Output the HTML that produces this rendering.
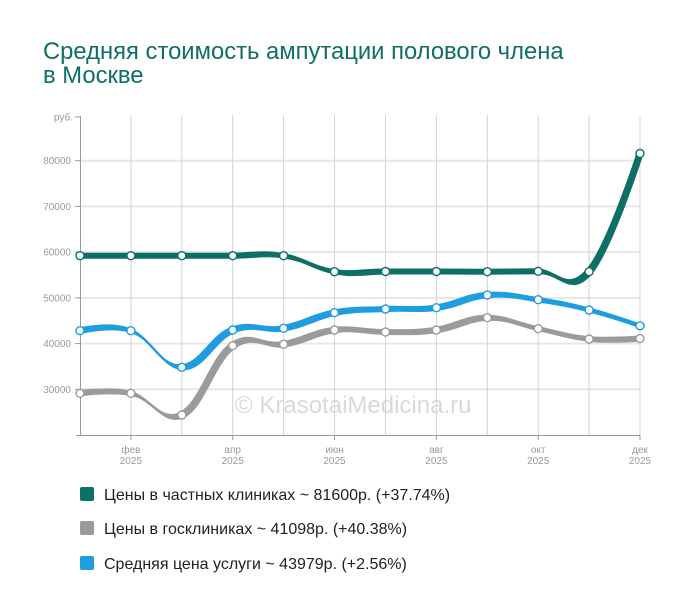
<!DOCTYPE html>
<html><head><meta charset="utf-8"><style>
html,body{margin:0;padding:0;background:#fff;}
svg{display:block;}
text{font-family:"Liberation Sans","Noto Sans CJK SC",sans-serif;}
</style></head><body>
<svg width="700" height="612" viewBox="0 0 700 612" xmlns="http://www.w3.org/2000/svg">
<rect width="700" height="612" fill="#fff"/>
<text x="43" y="59" font-size="23.8" fill="#0f6e66">Средняя стоимость ампутации полового члена</text>
<text x="43" y="83" font-size="23.8" fill="#0f6e66">в Москве</text>

<!-- watermark -->
<text x="235" y="413" font-size="24" fill="#d9d9d9">© KrasotaiMedicina.ru</text>

<!-- horizontal gridlines -->
<g stroke="#e6e6e6" stroke-width="2">
<line x1="80" y1="160.7" x2="640" y2="160.7"/>
<line x1="80" y1="206.4" x2="640" y2="206.4"/>
<line x1="80" y1="252.1" x2="640" y2="252.1"/>
<line x1="80" y1="297.9" x2="640" y2="297.9"/>
<line x1="80" y1="343.6" x2="640" y2="343.6"/>
<line x1="80" y1="389.3" x2="640" y2="389.3"/>
</g>
<!-- vertical gridlines -->
<g stroke="#d4d4d4" stroke-width="1">
<line x1="130.9" y1="115" x2="130.9" y2="435"/>
<line x1="181.8" y1="115" x2="181.8" y2="435"/>
<line x1="232.7" y1="115" x2="232.7" y2="435"/>
<line x1="283.6" y1="115" x2="283.6" y2="435"/>
<line x1="334.5" y1="115" x2="334.5" y2="435"/>
<line x1="385.5" y1="115" x2="385.5" y2="435"/>
<line x1="436.4" y1="115" x2="436.4" y2="435"/>
<line x1="487.3" y1="115" x2="487.3" y2="435"/>
<line x1="538.2" y1="115" x2="538.2" y2="435"/>
<line x1="589.1" y1="115" x2="589.1" y2="435"/>
<line x1="640" y1="115" x2="640" y2="435"/>
</g>
<!-- axes -->
<g stroke="#999" stroke-width="1">
<line x1="80.5" y1="116" x2="80.5" y2="435.5"/>
<line x1="76" y1="435.5" x2="640" y2="435.5"/>
<line x1="75" y1="117" x2="80" y2="117"/>
<line x1="75" y1="160.7" x2="80" y2="160.7"/>
<line x1="75" y1="206.4" x2="80" y2="206.4"/>
<line x1="75" y1="252.1" x2="80" y2="252.1"/>
<line x1="75" y1="297.9" x2="80" y2="297.9"/>
<line x1="75" y1="343.6" x2="80" y2="343.6"/>
<line x1="75" y1="389.3" x2="80" y2="389.3"/>
<line x1="130.9" y1="435" x2="130.9" y2="440"/>
<line x1="232.7" y1="435" x2="232.7" y2="440"/>
<line x1="334.5" y1="435" x2="334.5" y2="440"/>
<line x1="436.4" y1="435" x2="436.4" y2="440"/>
<line x1="538.2" y1="435" x2="538.2" y2="440"/>
<line x1="640" y1="435" x2="640" y2="440"/>
</g>
<g font-size="10" fill="#999" text-anchor="end">
<text x="73" y="120.5">руб.</text>
<text x="71" y="164.2">80000</text>
<text x="71" y="209.9">70000</text>
<text x="71" y="255.6">60000</text>
<text x="71" y="301.4">50000</text>
<text x="71" y="347.1">40000</text>
<text x="71" y="392.8">30000</text>
</g>
<g font-size="10" fill="#999" text-anchor="middle">
<text x="130.9" y="453">фев</text><text x="130.9" y="464">2025</text>
<text x="232.7" y="453">апр</text><text x="232.7" y="464">2025</text>
<text x="334.5" y="453">июн</text><text x="334.5" y="464">2025</text>
<text x="436.4" y="453">авг</text><text x="436.4" y="464">2025</text>
<text x="538.2" y="453">окт</text><text x="538.2" y="464">2025</text>
<text x="640" y="453">дек</text><text x="640" y="464">2025</text>
</g>

<defs>
<path id="pt" fill="none" d="M80,255.7 C80,255.7 110.5,255.7 130.9,255.7 C151.3,255.7 161.4,255.7 181.8,255.7 C202.2,255.7 212.3,255.7 232.7,255.7 C253.1,255.7 263.2,252.5 283.6,255.7 C304,258.9 314.1,268.5 334.5,271.7 C354.9,274.9 365.1,271.5 385.5,271.5 C405.9,271.5 416,271.5 436.4,271.5 C456.8,271.5 466.9,271.7 487.3,271.7 C507.7,271.7 517.8,271.3 538.2,271.3 C558.6,271.3 568.7,295.3 589.1,271.7 C609.5,248.1 640,153.4 640,153.4"/>
<path id="pg" fill="none" d="M80,393.3 C80,393.3 110.5,388.96 130.9,393.3 C151.3,397.64 161.4,424.52 181.8,415 C202.2,405.48 212.3,359.84 232.7,345.7 C253.1,331.56 263.2,347.44 283.6,344.3 C304,341.16 314.1,332.46 334.5,330 C354.9,327.54 365.1,332 385.5,332 C405.9,332 416,332.86 436.4,330 C456.8,327.14 466.9,317.96 487.3,317.7 C507.7,317.44 517.8,324.44 538.2,328.7 C558.6,332.96 568.7,337.02 589.1,339 C609.5,340.98 640,338.6 640,338.6"/>
<path id="pb" fill="none" d="M80,330.7 C80,330.7 110.5,323.38 130.9,330.7 C151.3,338.02 161.4,367.44 181.8,367.3 C202.2,367.16 212.3,337.8 232.7,330 C253.1,322.2 263.2,331.76 283.6,328.3 C304,324.84 314.1,316.56 334.5,312.7 C354.9,308.84 365.1,310 385.5,309 C405.9,308 416,310.5 436.4,307.7 C456.8,304.9 466.9,296.6 487.3,295 C507.7,293.4 517.8,296.7 538.2,299.7 C558.6,302.7 568.7,304.78 589.1,310 C609.5,315.22 640,325.8 640,325.8"/>
</defs>

<!-- gray series -->
<g stroke="#9b9b9b" stroke-width="2" stroke-linecap="round">
<use href="#pg" transform="translate(-2,-2)"/><use href="#pg" transform="translate(-1,-1)"/><use href="#pg"/><use href="#pg" transform="translate(1,1)"/><use href="#pg" transform="translate(2,2)"/>
</g>
<!-- blue series -->
<g stroke="#1e9de0" stroke-width="2" stroke-linecap="round">
<use href="#pb" transform="translate(-2,-2)"/><use href="#pb" transform="translate(-1,-1)"/><use href="#pb"/><use href="#pb" transform="translate(1,1)"/><use href="#pb" transform="translate(2,2)"/>
</g>
<!-- teal series -->
<g stroke="#0d6f66" stroke-width="2" stroke-linecap="round">
<use href="#pt" transform="translate(-2,-2)"/><use href="#pt" transform="translate(-1,-1)"/><use href="#pt"/><use href="#pt" transform="translate(1,1)"/><use href="#pt" transform="translate(2,2)"/>
</g>

<!-- markers -->
<g fill="#fff" stroke="#9b9b9b" stroke-width="1.4">
<circle cx="80" cy="393.3" r="4"/><circle cx="130.9" cy="393.3" r="4"/><circle cx="181.8" cy="415" r="4"/><circle cx="232.7" cy="345.7" r="4"/><circle cx="283.6" cy="344.3" r="4"/><circle cx="334.5" cy="330" r="4"/><circle cx="385.5" cy="332" r="4"/><circle cx="436.4" cy="330" r="4"/><circle cx="487.3" cy="317.7" r="4"/><circle cx="538.2" cy="328.7" r="4"/><circle cx="589.1" cy="339" r="4"/><circle cx="640" cy="338.6" r="4"/>
</g>
<g fill="#fff" stroke="#1e9de0" stroke-width="1.4">
<circle cx="80" cy="330.7" r="4"/><circle cx="130.9" cy="330.7" r="4"/><circle cx="181.8" cy="367.3" r="4"/><circle cx="232.7" cy="330" r="4"/><circle cx="283.6" cy="328.3" r="4"/><circle cx="334.5" cy="312.7" r="4"/><circle cx="385.5" cy="309" r="4"/><circle cx="436.4" cy="307.7" r="4"/><circle cx="487.3" cy="295" r="4"/><circle cx="538.2" cy="299.7" r="4"/><circle cx="589.1" cy="310" r="4"/><circle cx="640" cy="325.8" r="4"/>
</g>
<g fill="#fff" stroke="#0d6f66" stroke-width="1.4">
<circle cx="80" cy="255.7" r="4"/><circle cx="130.9" cy="255.7" r="4"/><circle cx="181.8" cy="255.7" r="4"/><circle cx="232.7" cy="255.7" r="4"/><circle cx="283.6" cy="255.7" r="4"/><circle cx="334.5" cy="271.7" r="4"/><circle cx="385.5" cy="271.5" r="4"/><circle cx="436.4" cy="271.5" r="4"/><circle cx="487.3" cy="271.7" r="4"/><circle cx="538.2" cy="271.3" r="4"/><circle cx="589.1" cy="271.7" r="4"/><circle cx="640" cy="153.4" r="4"/>
</g>

<!-- legend -->
<rect x="80" y="487" width="14" height="14" rx="2" fill="#0d6f66"/>
<rect x="80" y="521" width="14" height="14" rx="2" fill="#9b9b9b"/>
<rect x="80" y="556" width="14" height="14" rx="2" fill="#1e9de0"/>
<g font-size="16" fill="#222">
<text x="104" y="500">Цены в частных клиниках ~ 81600р. (+37.74%)</text>
<text x="104" y="534">Цены в госклиниках ~ 41098р. (+40.38%)</text>
<text x="104" y="569">Средняя цена услуги ~ 43979р. (+2.56%)</text>
</g>
</svg>
</body></html>
